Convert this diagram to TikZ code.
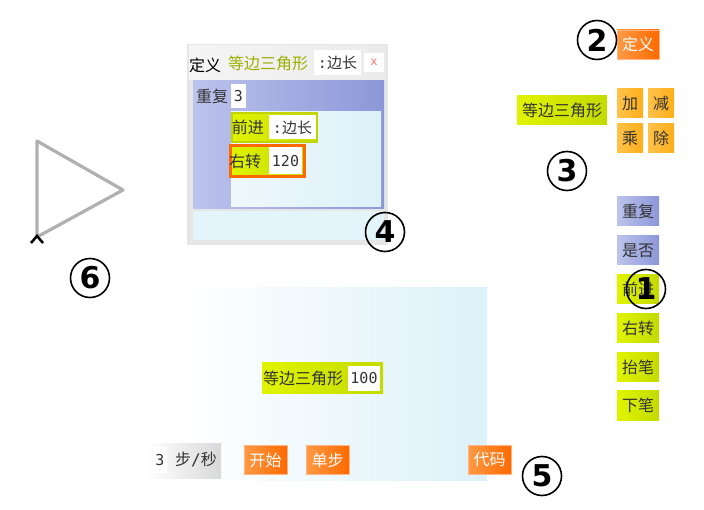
\documentclass[tikz,border=0pt]{standalone}
\usepackage{fontspec}
\setmainfont{Noto Sans CJK SC}
\newfontfamily\monof{DejaVu Sans Mono}
\newfontfamily\numf{DejaVu Sans}

\definecolor{txtgray}{HTML}{333333}
\definecolor{limeA}{HTML}{E0F400}
\definecolor{limeB}{HTML}{C4DA00}
\definecolor{limeedge}{HTML}{C2D400}
\definecolor{blueA}{HTML}{BCC3EC}
\definecolor{blueB}{HTML}{8C97D8}
\definecolor{goldA}{HTML}{FFC24A}
\definecolor{goldB}{HTML}{FFAE1A}
\definecolor{orangeA}{HTML}{FF9A45}
\definecolor{orangeB}{HTML}{FF6A00}
\definecolor{orangeedge}{HTML}{FFB585}
\definecolor{skyA}{HTML}{FBFDFE}
\definecolor{skyB}{HTML}{DCF1F9}
\definecolor{framegray}{HTML}{E6E6E6}
\definecolor{olivetxt}{HTML}{9AB000}
\definecolor{turtlegray}{HTML}{B0B0B0}

\tikzset{
  blk/.style={inner sep=0pt, minimum height=29pt, text=txtgray,
    font=\fontsize{16}{19}\selectfont},
  motion/.style={blk, left color=limeA, right color=limeB},
  ctrl/.style={blk, left color=blueA, right color=blueB},
  calc/.style={blk, left color=goldA, right color=goldB},
  btn/.style={blk, left color=orangeA, right color=orangeB, draw=orangeedge, text=white},
  lbl/.style={inner sep=0pt, text=txtgray, font=\fontsize{16}{19}\selectfont},
  slot/.style={fill=white, inner sep=0pt, minimum height=24pt, text=txtgray,
    font=\fontsize{15}{17}\selectfont},
  badge/.style={circle, draw=black, line width=1.6pt, minimum size=39pt, inner sep=0pt,
    font=\numf\bfseries\fontsize{30}{30}\selectfont},
}

\begin{document}
\begin{tikzpicture}[x=1pt, y=-1pt]

\useasboundingbox (0,0) rectangle (704,510);

% -------- Turtle -----------
\draw [turtlegray, line width=3.2pt, line join=round] (37,141) -- (123,190) -- (37,237) -- cycle;
\coordinate (turtle) at (37,236);
\draw [black, line width=2.5pt] ([shift={(-6,7)}]turtle) -- (turtle) -- ([shift={(6,7)}]turtle);

% -------- Definition panel -----------
\fill [framegray] (187,44) rectangle (388,245);
\shade [left color=white!96!black, right color=white!92!black] (189,46) rectangle (386,80);
\node [lbl, text=black] (defkw)   at (205,65) {定义};
\node [lbl, text=olivetxt] (defname) at (268,63) {等边三角形};
\node [slot, minimum width=47pt, minimum height=25pt] (defarg) at (337.5,62.5) {{\monof :}边长};
\node [fill=white, minimum width=20pt, minimum height=19pt, inner sep=0pt,
  text=red!55, font=\monof\fontsize{12}{12}\selectfont] (defclose) at (374,62.5) {x};

% repeat block
\shade [left color=blueA, right color=blueB] (193,81) rectangle (384,209);
\node [lbl] (reptxt) at (212,96) {重复};
\node [slot, minimum width=15pt] (repnum) at (238.5,96) {\monof 3};
\shade [left color=skyA!60!skyB, right color=skyB] (231,112) rectangle (381,207);
\fill [skyB!80!white] (193,211) rectangle (384,240);

% first row
\node [motion, minimum width=85pt, minimum height=29pt, draw=limeedge, line width=2.5pt] (defmove) at (274.5,127.5) {};
\node [lbl, anchor=west] at ([xshift=1pt]defmove.west) {前进};
\node [slot, minimum width=47pt] (defmovearg) at (292.5,127.5) {{\monof :}边长};

% second row
\node [motion, minimum width=74pt, minimum height=31pt, draw=orangeB, line width=3pt] (defturn) at (267.5,161) {};
\node [lbl, anchor=west] at ([xshift=0pt]defturn.west) {右转};
\node [slot, minimum width=33pt, minimum height=27pt] (defturnarg) at (285.5,161) {\monof 120};

% -------- Palette -----------
\node [btn, minimum width=42pt] (pdef) at (638,44.5) {定义};
\node [motion, minimum width=90pt] (pproc) at (562,110) {等边三角形};
\node [calc, minimum width=26pt] (padd) at (630,103.5) {加};
\node [calc, minimum width=26pt] (psub) at (661,103.5) {减};
\node [calc, minimum width=26pt] (pmul) at (630,138) {乘};
\node [calc, minimum width=26pt] (pdiv) at (661,138) {除};

\node [ctrl, minimum width=42pt]   (prep)  at (638,211.5) {重复};
\node [ctrl, minimum width=42pt]   (pif)   at (638,250.5) {是否};
\node [motion, minimum width=42pt] (pfd)   at (638,289)   {前进};
\node [motion, minimum width=42pt] (prt)   at (638,328)   {右转};
\node [motion, minimum width=42pt] (ppu)   at (638,367)   {抬笔};
\node [motion, minimum width=42pt] (ppd)   at (638,405.5) {下笔};

% -------- Stage -----------
\shade [left color=white, right color=skyB] (187,288) rectangle (487,480);
\node [motion, minimum width=121pt, minimum height=31pt] (callproc) at (322.5,378.5) {};
\node [lbl, anchor=west] at ([xshift=1pt]callproc.west) {等边三角形};
\node [slot, minimum width=32pt, minimum height=25pt] (callarg) at (364,378.5) {\monof 100};

% speed box and buttons
\node [blk, minimum width=74pt, minimum height=35pt, left color=white, right color=white!85!black] (speed) at (184,460.5) {};
\node [slot, minimum width=14pt, minimum height=26pt] (speednum) at (160,460) {\monof 3};
\node [lbl] (speedtxt) at (196,460) {步{\monof/}秒};
\node [btn, minimum width=43pt] (pstart) at (265.5,460) {开始};
\node [btn, minimum width=43pt] (pstep)  at (327.5,460) {单步};
\node [btn, minimum width=43pt] (pcode)  at (489.5,460) {代码};

% -------- Badges -----------
\node [badge] (b1) at (646,289) {1};
\node [badge] (b2) at (597,40)  {2};
\node [badge] (b3) at (567,171) {3};
\node [badge] (b4) at (385,232) {4};
\node [badge] (b5) at (542,476) {5};
\node [badge] (b6) at (90,278)  {6};

\end{tikzpicture}
\end{document}
